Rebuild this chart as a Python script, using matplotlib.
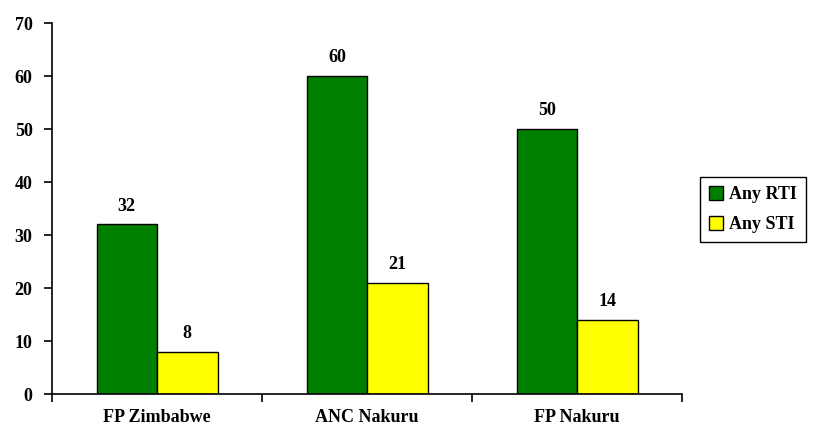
import matplotlib.pyplot as plt
import numpy as np

categories = ['FP Zimbabwe', 'ANC Nakuru', 'FP Nakuru']
any_rti = [32, 60, 50]
any_sti = [8, 21, 14]
series_names = ['Any RTI', 'Any STI']
yticks = [0, 10, 20, 30, 40, 50, 60, 70]

plt.rcParams['font.family'] = ['Liberation Serif', 'DejaVu Serif']
plt.rcParams['font.weight'] = 'bold'
fs = 13

fig = plt.figure(figsize=(8.13, 4.30), dpi=100)
ax = fig.add_axes([0.064, 0.0837, 0.775, 0.8628])

x = np.arange(len(categories))
w = 0.288
b1 = ax.bar(x - w / 2, any_rti, w, color='#008000', edgecolor='black', linewidth=1, label=series_names[0])
b2 = ax.bar(x + w / 2, any_sti, w, color='#ffff00', edgecolor='black', linewidth=1, label=series_names[1])

for bars in (b1, b2):
    for r in bars:
        ax.annotate('%d' % r.get_height(), (r.get_x() + r.get_width() / 2, r.get_height()),
                    xytext=(0, 7), textcoords='offset points', ha='center', va='bottom',
                    fontweight='bold', fontsize=fs)

ax.set_xlim(-0.5, len(categories) - 0.5)
ax.set_ylim(0, 70)
ax.set_yticks(yticks)
ax.set_xticks(x)
ax.set_xticklabels(categories, fontweight='bold', fontsize=fs)
ax.set_yticklabels([str(t) for t in yticks], fontweight='bold', fontsize=fs)
ax.set_xticks(np.arange(len(categories) + 1) - 0.5, minor=True)
ax.tick_params(axis='x', which='major', length=0, pad=11)
ax.tick_params(axis='x', which='minor', length=6, width=1.2, direction='out')
ax.tick_params(axis='y', length=6, width=1.2, direction='out', pad=8)

for s in ['top', 'right']:
    ax.spines[s].set_visible(False)
for s in ['left', 'bottom']:
    ax.spines[s].set_linewidth(1.2)

leg = ax.legend(loc='upper left', bbox_to_anchor=(0.861, 0.588), bbox_transform=fig.transFigure,
                borderaxespad=0, fancybox=False, framealpha=1, edgecolor='black',
                handlelength=0.8, handleheight=0.8, handletextpad=0.3, labelspacing=0.7,
                borderpad=0.5, prop={'weight': 'bold', 'size': fs})
leg.get_frame().set_linewidth(1)

fig.savefig('out.png', dpi=100)
